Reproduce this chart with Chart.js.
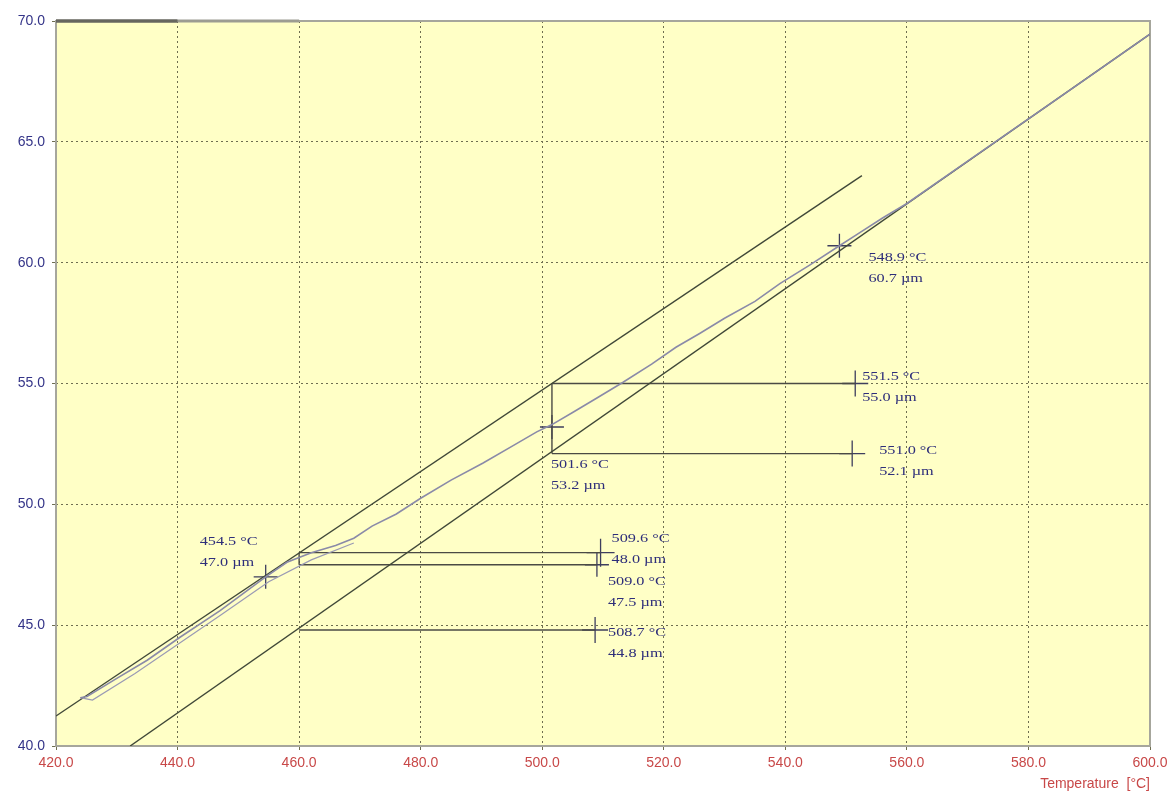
<!DOCTYPE html>
<html>
<head>
<meta charset="utf-8">
<script src="https://cdn.jsdelivr.net/npm/chart.js@4/dist/chart.umd.min.js"></script>
<style>
html,body{margin:0;padding:0;background:#fff;}
#wrap{width:1175px;height:794px;position:relative;}
</style>
</head>
<body>
<div id="wrap"><canvas id="c" width="1175" height="794"></canvas></div>
<script>
// ---- data ----
const xTicks = [420, 440, 460, 480, 500, 520, 540, 560, 580, 600];
const yTicks = [40, 45, 50, 55, 60, 65, 70];

// measured curve (temperature °C vs length µm)
const curveT = [424.0, 425.1, 430.0, 435.0, 440.4, 447.0, 454.5, 458.0, 462.0, 466.0, 469.0, 472.0, 476.0, 480.0, 485.0, 490.2, 495.0, 499.1, 501.6, 505.0, 509.0, 513.3, 518.0, 522.0, 525.9, 530.0, 535.0, 539.1, 544.0, 548.9, 552.0, 556.0, 560.0, 570.0, 580.0, 590.0, 600.0];
const curveV = [42.0, 42.05, 42.8, 43.55, 44.5, 45.6, 47.0, 47.6, 48.0, 48.3, 48.6, 49.1, 49.6, 50.25, 51.0, 51.7, 52.4, 53.0, 53.3, 53.8, 54.4, 55.05, 55.8, 56.5, 57.07, 57.7, 58.4, 59.13, 59.9, 60.7, 61.2, 61.85, 62.45, 64.2, 65.95, 67.7, 69.46];
// return branch of the loop at low temperature
const loopT = [469.0, 462.0, 455.0, 447.0, 440.0, 433.0, 426.0, 424.0];
const loopV = [48.4, 47.7, 46.8, 45.4, 44.2, 43.0, 41.9, 42.0];

// tangent lines
const upperT = [420.0, 552.6];
const upperV = [41.24, 63.6];
const lowerT = [432.2, 600.0];
const lowerV = [40.0, 69.46];

// top edge segments at 70.0
const topT = [420.0, 440.0, 460.0];
const topV = [70.0, 70.0, 70.0];

// reference segments
const segStartT = [460.0, 460.0, 460.0, 460.0, 501.6, 501.6, 501.6];
const segStartV = [48.0, 47.5, 47.5, 44.8, 55.0, 52.1, 52.1];
const segEndT   = [509.6, 509.0, 460.0, 508.7, 551.5, 551.0, 501.6];
const segEndV   = [48.0, 47.5, 48.0, 44.8, 55.0, 52.1, 55.0];

// marked points
const markT = [454.5, 509.6, 509.0, 508.7, 501.6, 551.5, 551.0, 548.9];
const markV = [47.0, 48.0, 47.5, 44.8, 53.2, 55.0, 52.1, 60.7];
const markLabel1 = ["454.5 °C", "509.6 °C", "509.0 °C", "508.7 °C", "501.6 °C", "551.5 °C", "551.0 °C", "548.9 °C"];
const markLabel2 = ["47.0 µm", "48.0 µm", "47.5 µm", "44.8 µm", "53.2 µm", "55.0 µm", "52.1 µm", "60.7 µm"];

// ---- layout/style (not data) ----
const labelOffsets = [[-66,-35],[11,-14],[11,17],[13,3],[-1,38],[7,-7],[27,-3],[29,12]];
const markSizes = [12, 14, 12, 13, 12, 13, 13, 12];

const pts = (xs, ys) => xs.map((x, i) => ({x: x, y: ys[i]}));

const datasets = [];
datasets.push({data: pts(curveT, curveV), borderColor: '#8a8aa8', borderWidth: 1.6, pointRadius: 0, showLine: true, tension: 0});
datasets.push({data: pts(loopT, loopV), borderColor: '#9a9ab4', borderWidth: 1.2, pointRadius: 0, showLine: true, tension: 0});
datasets.push({data: pts(upperT, upperV), borderColor: '#404838', borderWidth: 1.4, pointRadius: 0, showLine: true});
datasets.push({data: pts(lowerT, lowerV), borderColor: '#404838', borderWidth: 1.4, pointRadius: 0, showLine: true});
for (let i = 0; i < segStartT.length; i++) {
  datasets.push({data: [{x: segStartT[i], y: segStartV[i]}, {x: segEndT[i], y: segEndV[i]}], borderColor: '#4a4a44', borderWidth: 1.4, pointRadius: 0, showLine: true});
}
datasets.push({data: pts(topT.slice(0,2), topV.slice(0,2)), borderColor: '#66665e', borderWidth: 3.5, pointRadius: 0, showLine: true, clip: 4});
datasets.push({data: pts(topT.slice(1,3), topV.slice(1,3)), borderColor: '#9c9c92', borderWidth: 3, pointRadius: 0, showLine: true, clip: 4});
datasets.push({data: pts(markT, markV), borderColor: '#3e3e5e', borderWidth: 1.3, pointStyle: 'cross', pointRadius: markSizes, showLine: false});

const bgPlugin = {
  id: 'bg',
  beforeDraw(chart) {
    const {ctx, chartArea: a} = chart;
    ctx.save();
    ctx.fillStyle = '#ffffc6';
    ctx.fillRect(a.left, a.top, a.right - a.left, a.bottom - a.top);
    ctx.restore();
  },
  beforeDatasetsDraw(chart) {
    const {ctx, chartArea: a} = chart;
    ctx.save();
    ctx.strokeStyle = '#a6a69c';
    ctx.lineWidth = 2;
    ctx.strokeRect(a.left, a.top, a.right - a.left, a.bottom - a.top);
    ctx.restore();
  },
  afterDraw(chart) {
    const {ctx, scales} = chart;
    ctx.save();
    ctx.fillStyle = '#2e2e7a';
    ctx.font = '13px "Liberation Serif", "Times New Roman", serif';
    ctx.textBaseline = 'middle';
    ctx.textAlign = 'left';
    for (let i = 0; i < markT.length; i++) {
      const px = scales.x.getPixelForValue(markT[i]);
      const py = scales.y.getPixelForValue(markV[i]);
      const o = labelOffsets[i];
      [markLabel1[i], markLabel2[i]].forEach((t, k) => {
        ctx.save();
        ctx.translate(px + o[0], py + o[1] + 21 * k);
        ctx.scale(1.25, 1);
        ctx.fillText(t, 0, 0);
        ctx.restore();
      });
    }
    ctx.restore();
  }
};

const tickFont = {family: 'Liberation Sans, Arial', size: 14};

new Chart(document.getElementById('c'), {
  type: 'scatter',
  data: {datasets: datasets},
  options: {
    responsive: false,
    animation: false,
    events: [],
    layout: {padding: {top: 21, right: 25, left: 0, bottom: 0}},
    plugins: {legend: {display: false}, tooltip: {enabled: false}},
    scales: {
      x: {
        type: 'linear', min: 420, max: 600,
        afterBuildTicks(s) { s.ticks = xTicks.map(v => ({value: v})); },
        afterFit(s) { s.height = 48; },
        ticks: {color: '#c84848', font: tickFont, padding: 5, maxRotation: 0,
                callback: v => Number(v).toFixed(1)},
        grid: {color: '#6e6e50', lineWidth: 1, tickLength: 4},
        border: {display: false, dash: [2, 3]},
        title: {display: true, text: 'Temperature  [°C]', align: 'end', color: '#c84848',
                font: tickFont, padding: {top: 0, bottom: 1}}
      },
      y: {
        type: 'linear', min: 40, max: 70,
        afterBuildTicks(s) { s.ticks = yTicks.map(v => ({value: v})); },
        afterFit(s) { s.width = 56; },
        ticks: {color: '#343488', font: tickFont, padding: 7,
                callback: v => Number(v).toFixed(1)},
        grid: {color: '#6e6e50', lineWidth: 1, tickLength: 4},
        border: {display: false, dash: [2, 3]}
      }
    }
  },
  plugins: [bgPlugin]
});
</script>
</body>
</html>
